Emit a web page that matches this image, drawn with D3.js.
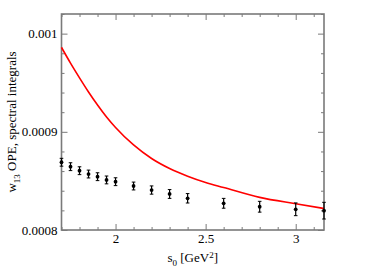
<!DOCTYPE html>
<html><head><meta charset="utf-8">
<script src="https://cdn.jsdelivr.net/npm/d3@7"></script>
<style>html,body{margin:0;padding:0;background:#fff;}svg{display:block;}</style>
</head><body>
<svg id="c" width="382" height="270"></svg>
<script>
const s0Data = [1.7,1.75,1.8,1.85,1.9,1.95,2.0,2.1,2.2,2.3,2.4,2.6,2.8,3.0,3.157];
const dataVals = [0.000869,0.0008645,0.0008604,0.000857,0.0008543,0.000851,0.0008492,0.0008448,0.0008407,0.0008367,0.0008323,0.0008272,0.0008237,0.0008211,0.0008197];
const dataErr = [0.000004,0.000004,0.000004,0.000004,0.000004,0.000004,0.000004,0.000004,0.0000042,0.0000045,0.0000048,0.000005,0.0000055,0.0000065,0.0000085];
const s0Ope = [1.7,1.75,1.8,1.85,1.9,1.95,2.0,2.1,2.2,2.3,2.4,2.5,2.6,2.8,3.0,3.157];
const opeVals = [0.000986,0.000970,0.000955,0.0009406,0.0009273,0.0009151,0.0009044,0.0008866,0.0008728,0.0008626,0.0008548,0.0008484,0.0008433,0.0008332,0.0008267,0.0008219];
const xMajor = [2,2.5,3];
const xMinor = [1.7,1.8,1.9,2.1,2.2,2.3,2.4,2.6,2.7,2.8,2.9,3.1];
const yMajor = [0.0008,0.0009,0.001];
const yMajorLabels = ["0.0008","0.0009","0.001"];
const yMinor = [0.00082,0.00084,0.00086,0.00088,0.00092,0.00094,0.00096,0.00098,0.00102];

const svg = d3.select("#c");
const L=61.5,R=324,T=14,B=230;
const x = d3.scaleLinear().domain([1.7,3.157]).range([L,R]);
const y = d3.scaleLinear().domain([0.0008,0.00102]).range([B,T]);
const font = "'Liberation Serif','Times New Roman',serif";
const axc = "#7a7a7a";

// frame
svg.append("rect").attr("x",L).attr("y",T).attr("width",R-L).attr("height",B-T)
  .attr("fill","none").attr("stroke",axc).attr("stroke-width",1.6);

// axes ticks (inward) using d3 axes
const ax = (gen,tr)=>svg.append("g").attr("transform",tr).call(gen)
  .call(g=>{g.select(".domain").remove();g.selectAll("line").attr("stroke",axc).attr("stroke-width",1);});
ax(d3.axisBottom(x).tickValues(xMajor).tickSize(-6).tickFormat(d=>d3.format("")(d)).tickPadding(4),`translate(0,${B})`)
  .selectAll("text").attr("font-family",font).attr("font-size",13).attr("fill","#000");
ax(d3.axisBottom(x).tickValues(xMinor).tickSize(-3).tickFormat(""),`translate(0,${B})`);
ax(d3.axisTop(x).tickValues(xMajor).tickSize(-6).tickFormat(""),`translate(0,${T})`);
ax(d3.axisTop(x).tickValues(xMinor).tickSize(-3).tickFormat(""),`translate(0,${T})`);
ax(d3.axisLeft(y).tickValues(yMajor).tickSize(-6).tickFormat((d,i)=>yMajorLabels[i]).tickPadding(4),`translate(${L},0)`)
  .selectAll("text").attr("font-family",font).attr("font-size",13).attr("fill","#000");
ax(d3.axisLeft(y).tickValues(yMinor).tickSize(-3).tickFormat(""),`translate(${L},0)`);
ax(d3.axisRight(y).tickValues(yMajor).tickSize(-6).tickFormat(""),`translate(${R},0)`);
ax(d3.axisRight(y).tickValues(yMinor).tickSize(-3).tickFormat(""),`translate(${R},0)`);

// OPE line
svg.append("path").datum(s0Ope.map((s,i)=>[s,opeVals[i]]))
  .attr("d",d3.line().curve(d3.curveMonotoneX).x(d=>x(d[0])).y(d=>y(d[1])))
  .attr("fill","none").attr("stroke","#ff0000").attr("stroke-width",1.6);

// data points
const pts = svg.append("g");
s0Data.forEach((s,i)=>{
  const cx=x(s), cy=y(dataVals[i]), e1=y(dataVals[i]+dataErr[i]), e2=y(dataVals[i]-dataErr[i]);
  pts.append("line").attr("x1",cx).attr("x2",cx).attr("y1",e1).attr("y2",e2).attr("stroke","#000").attr("stroke-width",1.2);
  pts.append("line").attr("x1",cx-1.8).attr("x2",cx+1.8).attr("y1",e1).attr("y2",e1).attr("stroke","#000").attr("stroke-width",1);
  pts.append("line").attr("x1",cx-1.8).attr("x2",cx+1.8).attr("y1",e2).attr("y2",e2).attr("stroke","#000").attr("stroke-width",1);
  pts.append("circle").attr("cx",cx).attr("cy",cy).attr("r",1.9).attr("fill","#000");
});

// x label
const xl = svg.append("text").attr("x",(L+R)/2).attr("y",262).attr("text-anchor","middle")
  .attr("font-family",font).attr("font-size",13).attr("fill","#000");
xl.append("tspan").text("s");
xl.append("tspan").attr("dy",4).attr("font-size",9).text("0");
xl.append("tspan").attr("dy",-4).text(" [GeV");
xl.append("tspan").attr("dy",-4.5).attr("font-size",9).text("2");
xl.append("tspan").attr("dy",4.5).text("]");

// y label
const yl = svg.append("text").attr("transform",`translate(16,${(T+B)/2}) rotate(-90)`).attr("text-anchor","middle")
  .attr("font-family",font).attr("font-size",13).attr("fill","#000");
yl.append("tspan").text("w");
yl.append("tspan").attr("dy",4).attr("font-size",9).text("13");
yl.append("tspan").attr("dy",-4).text(" OPE, spectral integrals");
</script>
</body></html>
